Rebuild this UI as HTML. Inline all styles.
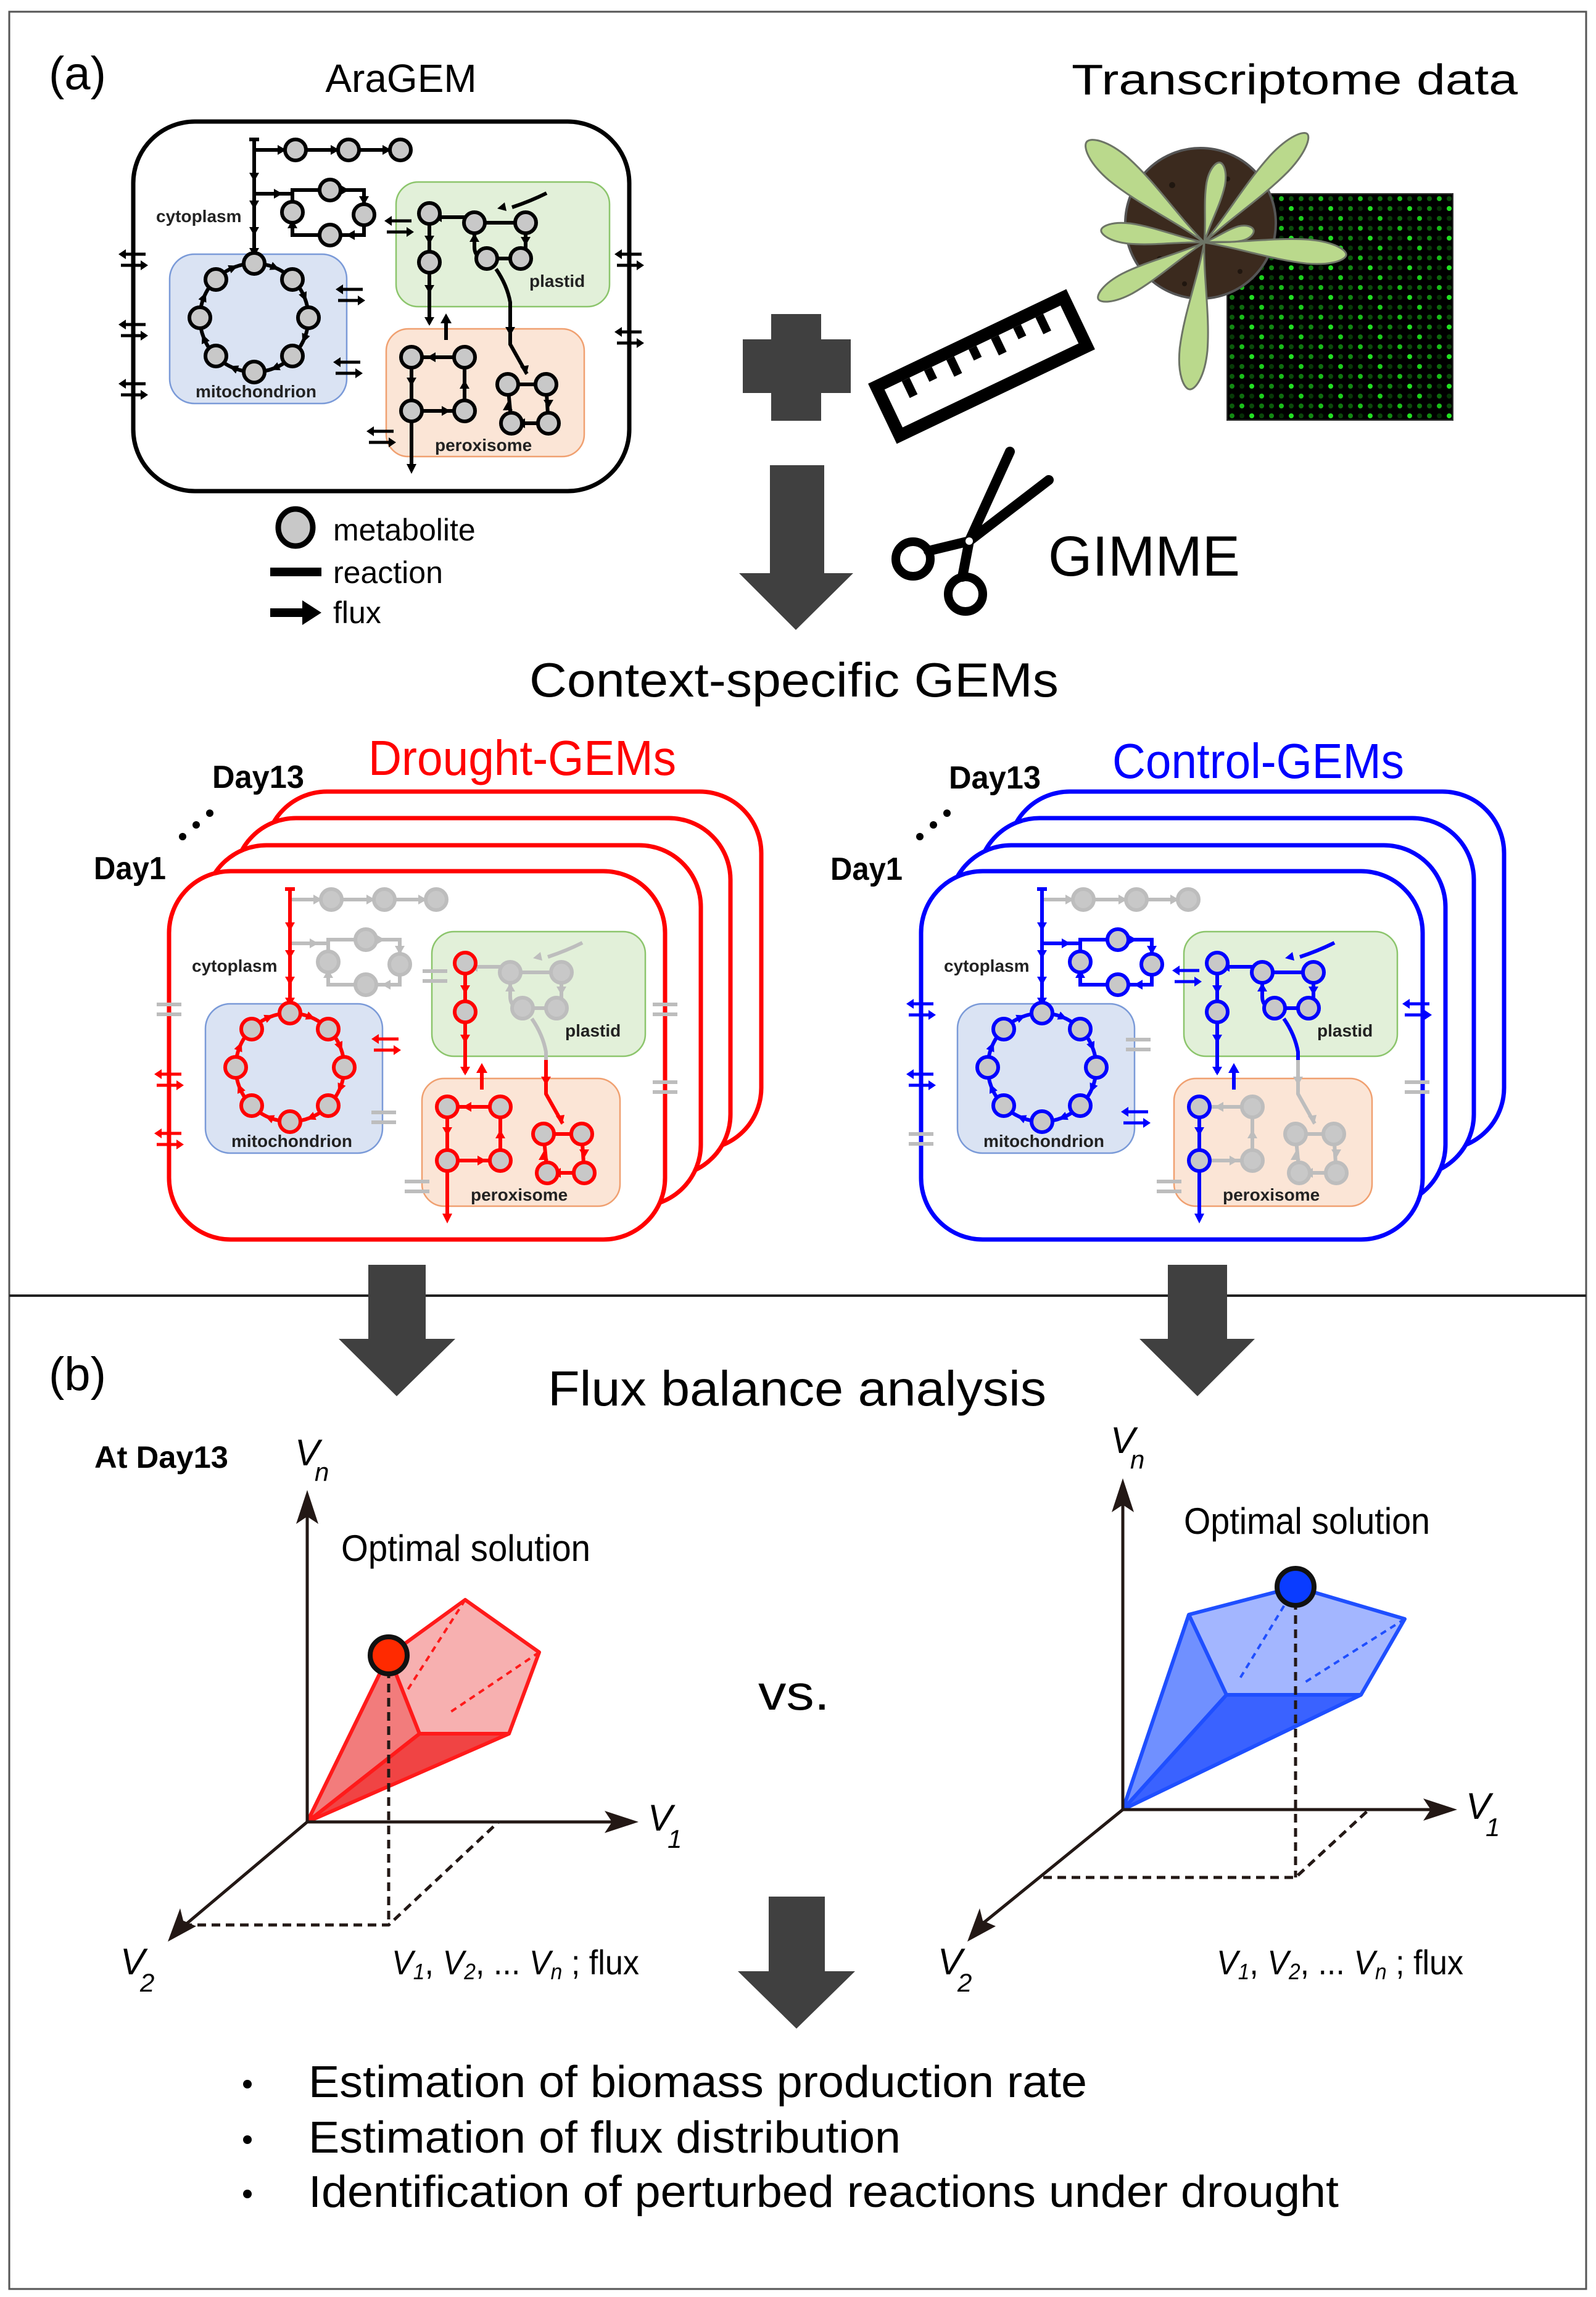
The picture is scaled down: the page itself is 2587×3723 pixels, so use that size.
<!DOCTYPE html>
<html><head><meta charset="utf-8">
<style>
html,body{margin:0;padding:0;background:#fff;}
svg{display:block;}
text{font-family:"Liberation Sans",Arial,sans-serif;}
.lbl{font-weight:bold;font-size:28px;fill:#222;}
</style></head>
<body>
<svg width="2587" height="3723" viewBox="0 0 2587 3723" xmlns="http://www.w3.org/2000/svg">
<defs>
  <pattern id="dots" x="1989" y="314" width="64" height="48" patternUnits="userSpaceOnUse">
    <rect width="64" height="48" fill="#000"/>
    <circle cx="8" cy="8" r="4" fill="#0a5a0a"/><circle cx="24" cy="8" r="4" fill="#19c019"/>
    <circle cx="40" cy="8" r="4" fill="#0a4a0a"/><circle cx="56" cy="8" r="4" fill="#0e7a0e"/>
    <circle cx="8" cy="24" r="4" fill="#128a12"/><circle cx="24" cy="24" r="4" fill="#063006"/>
    <circle cx="40" cy="24" r="4" fill="#22e022"/><circle cx="56" cy="24" r="4" fill="#0a4a0a"/>
    <circle cx="8" cy="40" r="4" fill="#073a07"/><circle cx="24" cy="40" r="4" fill="#0e6e0e"/>
    <circle cx="40" cy="40" r="4" fill="#063506"/><circle cx="56" cy="40" r="4" fill="#1bd01b"/>
  </pattern>
  <path id="leaf" vector-effect="non-scaling-stroke" d="M0,0 C40,-6 80,-28 120,-30 C150,-30 165,-12 165,0 C165,12 150,30 120,30 C80,28 40,6 0,0Z"/>
  <g id="xa">
    <path d="M-12,-9H20M12,9H-20" stroke="var(--cx)" stroke-width="5" fill="none"/>
    <path d="M-24,-9l12,-8v16z M24,9l-12,-8v16z" fill="var(--cx)"/>
  </g>
  <g id="eq"><path d="M-20,-8H20M-20,8H20" stroke="#bdbdbd" stroke-width="6"/></g>

  <g id="net" stroke-width="6" fill="none">
    <rect x="275" y="412" width="287" height="242" rx="40" fill="#dae3f3" stroke="#7a9ad8" stroke-width="2.5"/>
    <rect x="642" y="295" width="346" height="202" rx="36" fill="#e2f0d9" stroke="#8cc56c" stroke-width="2.5"/>
    <rect x="626" y="533" width="321" height="207" rx="36" fill="#fbe5d6" stroke="#f0a070" stroke-width="2.5"/>
    <path d="M412,243H649" stroke="var(--b)"/>
    <path d="M450,235l14,8l-14,8z M536,235l14,8l-14,8z M620,235l14,8l-14,8z" fill="var(--b)" stroke="none"/>
    <path d="M412,314H474 M474,308H590V381H474Z" stroke="var(--c)"/>
    <path d="M444,306l14,8l-14,8z M552,300l14,8l-14,8z M582,318l8,14l8,-14z M575,373l-14,8l14,8z M466,370l8,-14l8,14z" fill="var(--c)" stroke="none"/>
    <path d="M412,226V416 M404,226H420" stroke="var(--a)"/>
    <path d="M404,280l8,14l8,-14z M404,325l8,14l8,-14z M404,368l8,14l8,-14z M404,402l8,14l8,-14z" fill="var(--a)" stroke="none"/>
    <path d="M723,551V520" stroke="var(--a)"/>
    <path d="M714,524l9,-16l9,16z" fill="var(--a)" stroke="none"/>
    <circle cx="412" cy="515" r="88" stroke="var(--d)"/>
    <g fill="var(--d)" stroke="none">
      <path d="M-7,-7L8,0L-7,7z" transform="translate(412,515) rotate(-67.5) translate(88,0) rotate(90)"/>
      <path d="M-7,-7L8,0L-7,7z" transform="translate(412,515) rotate(-22.5) translate(88,0) rotate(90)"/>
      <path d="M-7,-7L8,0L-7,7z" transform="translate(412,515) rotate(22.5) translate(88,0) rotate(90)"/>
      <path d="M-7,-7L8,0L-7,7z" transform="translate(412,515) rotate(67.5) translate(88,0) rotate(90)"/>
      <path d="M-7,-7L8,0L-7,7z" transform="translate(412,515) rotate(112.5) translate(88,0) rotate(90)"/>
      <path d="M-7,-7L8,0L-7,7z" transform="translate(412,515) rotate(157.5) translate(88,0) rotate(90)"/>
      <path d="M-7,-7L8,0L-7,7z" transform="translate(412,515) rotate(202.5) translate(88,0) rotate(90)"/>
      <path d="M-7,-7L8,0L-7,7z" transform="translate(412,515) rotate(247.5) translate(88,0) rotate(90)"/>
    </g>
    <path d="M696,346V524" stroke="var(--e)"/>
    <path d="M688,382l8,14l8,-14z M688,462l8,14l8,-14z M688,514l8,14l8,-14z" fill="var(--e)" stroke="none"/>
    <path d="M769,361H852V419H789Q769,419 769,400Z M886,313Q860,326 830,336 M769,352H716 M804,436Q822,462 827,490V503" stroke="var(--f)"/>
    <path d="M716,344l-14,8l14,8z M818,328l-12,10l15,4z M844,384l8,14l8,-14z M761,392l8,-14l8,14z" fill="var(--f)" stroke="none"/>
    <path d="M827,503V558L854,606 M823,623H885L889,686H829Z" stroke="var(--h)"/>
    <path d="M819,530l8,14l8,-14z M843,594l10,14l4,-16z M881,648l8,14l8,-14z M851,678l-14,8l14,8z M815,665l8,-14l8,14z" fill="var(--h)" stroke="none"/>
    <path d="M753,579H667V666H753Z" stroke="var(--g2)"/>
    <path d="M706,571l-14,8l14,8z M716,658l14,8l-14,8z M745,630l8,-14l8,14z" fill="var(--g2)" stroke="none"/>
    <path d="M667,579V758" stroke="var(--g)"/>
    <path d="M659,612l8,14l8,-14z M659,752l8,16l8,-16z" fill="var(--g)" stroke="none"/>
    <g fill="#c8c8c8">
      <g stroke="var(--b)"><circle cx="479" cy="243" r="17"/><circle cx="565" cy="243" r="17"/><circle cx="649" cy="243" r="17"/></g>
      <g stroke="var(--c)"><circle cx="535" cy="308" r="17"/><circle cx="474" cy="344" r="17"/><circle cx="590" cy="348" r="17"/><circle cx="535" cy="381" r="17"/></g>
      <g stroke="var(--d)">
        <circle cx="412" cy="427" r="17"/><circle cx="474" cy="453" r="17"/><circle cx="500" cy="515" r="17"/><circle cx="474" cy="577" r="17"/>
        <circle cx="412" cy="603" r="17"/><circle cx="350" cy="577" r="17"/><circle cx="324" cy="515" r="17"/><circle cx="350" cy="453" r="17"/>
      </g>
      <g stroke="var(--e)"><circle cx="696" cy="346" r="17"/><circle cx="696" cy="425" r="17"/></g>
      <g stroke="var(--f)"><circle cx="769" cy="361" r="17"/><circle cx="852" cy="361" r="17"/><circle cx="789" cy="419" r="17"/><circle cx="844" cy="419" r="17"/></g>
      <g stroke="var(--h)"><circle cx="823" cy="623" r="17"/><circle cx="885" cy="623" r="17"/><circle cx="829" cy="686" r="17"/><circle cx="889" cy="686" r="17"/></g>
      <g stroke="var(--g)"><circle cx="667" cy="579" r="17"/><circle cx="667" cy="666" r="17"/></g>
      <g stroke="var(--g2)"><circle cx="753" cy="579" r="17"/><circle cx="753" cy="666" r="17"/></g>
    </g>
  </g>
</defs>

<rect x="15" y="19" width="2556" height="3691" fill="none" stroke="#555" stroke-width="3"/>
<line x1="15" y1="2100" x2="2571" y2="2100" stroke="#222" stroke-width="4"/>

<text x="79" y="145" font-size="76">(a)</text>
<text x="650" y="149" font-size="64" text-anchor="middle">AraGEM</text>
<text x="1737" y="153" font-size="70" textLength="723" lengthAdjust="spacingAndGlyphs">Transcriptome data</text>

<rect x="216" y="197" width="804" height="599" rx="100" fill="#fff" stroke="#000" stroke-width="7"/>
<use href="#net" style="--a:#000;--b:#000;--c:#000;--d:#000;--e:#000;--f:#000;--g:#000;--g2:#000;--h:#000"/>
<g style="--cx:#000">
  <use href="#xa" x="216" y="421"/><use href="#xa" x="216" y="535"/><use href="#xa" x="216" y="631"/>
  <use href="#xa" x="1020" y="421"/><use href="#xa" x="1020" y="547"/>
  <use href="#xa" x="568" y="478"/><use href="#xa" x="564" y="596"/>
  <use href="#xa" x="647" y="367"/><use href="#xa" x="618" y="708"/>
</g>
<text class="lbl" x="253" y="360">cytoplasm</text>
<text class="lbl" x="415" y="644" text-anchor="middle">mitochondrion</text>
<text class="lbl" x="858" y="465">plastid</text>
<text class="lbl" x="705" y="731">peroxisome</text>

<ellipse cx="479" cy="855" rx="28" ry="30" fill="#c8c8c8" stroke="#000" stroke-width="9"/>
<text x="540" y="876" font-size="50">metabolite</text>
<rect x="438" y="920" width="83" height="14" fill="#000"/>
<text x="540" y="945" font-size="50">reaction</text>
<path d="M438,986H490V973L521,993L490,1013V1000H438Z" fill="#000"/>
<text x="540" y="1010" font-size="50">flux</text>

<rect x="1250" y="509" width="81" height="173" fill="#404040"/>
<rect x="1204" y="550" width="175" height="87" fill="#404040"/>
<path d="M1248,754H1336V929H1383L1290,1021L1198,929H1248Z" fill="#404040"/>

<g transform="translate(1591,594) rotate(-25.5)">
  <rect x="-168" y="-44" width="336" height="88" fill="none" stroke="#000" stroke-width="20"/>
  <path d="M-120,-34V-4 M-80,-34V-14 M-40,-34V-4 M0,-34V-14 M40,-34V-4 M80,-34V-14 M120,-34V-4" stroke="#000" stroke-width="14"/>
</g>

<rect x="1989" y="314" width="366" height="367" fill="url(#dots)" stroke="#333" stroke-width="2"/>
<circle cx="1946" cy="362" r="122" fill="#3b2a1e" stroke="#555" stroke-width="4"/>
<g fill="#060402" opacity="0.5">
  <circle cx="1900" cy="300" r="5"/><circle cx="1990" cy="290" r="4"/><circle cx="1880" cy="420" r="5"/><circle cx="2010" cy="440" r="4"/><circle cx="1920" cy="460" r="4"/>
</g>
<g fill="#bad98c" stroke="#6d7466" stroke-width="3">
  <use href="#leaf" transform="translate(1952,393) rotate(-139.4) scale(1.52,0.8)"/>
  <use href="#leaf" transform="translate(1952,393) rotate(-46.5) scale(1.47,0.65)"/>
  <use href="#leaf" transform="translate(1952,393) rotate(5) scale(1.4,0.65)"/>
  <use href="#leaf" transform="translate(1952,393) rotate(186.8) scale(1.02,0.55)"/>
  <use href="#leaf" transform="translate(1952,393) rotate(151.9) scale(1.18,0.6)"/>
  <use href="#leaf" transform="translate(1952,393) rotate(95.7) scale(1.45,0.75)"/>
  <use href="#leaf" transform="translate(1952,393) rotate(-78.9) scale(0.8,0.5)"/>
  <use href="#leaf" transform="translate(1952,393) rotate(-14) scale(0.5,0.4)"/>
</g>

<g stroke="#000" fill="none">
  <path d="M1505,893L1571,877L1700,778" stroke-width="16" stroke-linecap="round"/>
  <path d="M1560,935L1571,877L1637,732" stroke-width="16" stroke-linecap="round"/>
  <circle cx="1480" cy="906" r="28" stroke-width="14"/>
  <circle cx="1565" cy="963" r="28" stroke-width="14"/>
  <circle cx="1571" cy="877" r="6" fill="#fff" stroke="none"/>
</g>
<text x="1699" y="933" font-size="92" textLength="311" lengthAdjust="spacingAndGlyphs">GIMME</text>

<text x="858" y="1129" font-size="78" textLength="858" lengthAdjust="spacingAndGlyphs">Context-specific GEMs</text>

<text x="597" y="1256" font-size="80" fill="#ff0000" textLength="499" lengthAdjust="spacingAndGlyphs">Drought-GEMs</text>
<text x="344" y="1277" font-size="52" font-weight="bold" textLength="149" lengthAdjust="spacingAndGlyphs">Day13</text>
<text x="152" y="1425" font-size="52" font-weight="bold" textLength="117" lengthAdjust="spacingAndGlyphs">Day1</text>
<g fill="#000"><circle cx="296" cy="1356" r="6"/><circle cx="318" cy="1337" r="6"/><circle cx="340" cy="1318" r="6"/></g>
<g fill="#fff" stroke="#ff0000" stroke-width="7">
  <rect x="430" y="1283" width="804" height="580" rx="100"/>
  <rect x="380" y="1326" width="804" height="580" rx="100"/>
  <rect x="332" y="1370" width="804" height="585" rx="100"/>
  <rect x="274" y="1412" width="804" height="597" rx="100"/>
</g>
<g transform="translate(58,1215)">
  <use href="#net" style="--a:#ff0000;--b:#bdbdbd;--c:#bdbdbd;--d:#ff0000;--e:#ff0000;--f:#bdbdbd;--g:#ff0000;--g2:#ff0000;--h:#ff0000"/>
  <g style="--cx:#ff0000">
    <use href="#eq" x="216" y="421"/><use href="#xa" x="216" y="535"/><use href="#xa" x="216" y="631"/>
    <use href="#eq" x="1020" y="421"/><use href="#eq" x="1020" y="547"/>
    <use href="#xa" x="568" y="478"/><use href="#eq" x="564" y="596"/>
    <use href="#eq" x="647" y="367"/><use href="#eq" x="618" y="708"/>
  </g>
  <text class="lbl" x="253" y="360">cytoplasm</text>
  <text class="lbl" x="415" y="644" text-anchor="middle">mitochondrion</text>
  <text class="lbl" x="858" y="465">plastid</text>
  <text class="lbl" x="705" y="731">peroxisome</text>
</g>

<text x="1803" y="1261" font-size="80" fill="#0000ff" textLength="473" lengthAdjust="spacingAndGlyphs">Control-GEMs</text>
<text x="1538" y="1278" font-size="52" font-weight="bold" textLength="149" lengthAdjust="spacingAndGlyphs">Day13</text>
<text x="1346" y="1426" font-size="52" font-weight="bold" textLength="117" lengthAdjust="spacingAndGlyphs">Day1</text>
<g fill="#000"><circle cx="1491" cy="1356" r="6"/><circle cx="1513" cy="1337" r="6"/><circle cx="1535" cy="1318" r="6"/></g>
<g fill="#fff" stroke="#0000ff" stroke-width="7">
  <rect x="1634" y="1283" width="804" height="580" rx="100"/>
  <rect x="1585" y="1326" width="804" height="580" rx="100"/>
  <rect x="1539" y="1370" width="804" height="585" rx="100"/>
  <rect x="1493" y="1412" width="813" height="597" rx="100"/>
</g>
<g transform="translate(1277,1215)">
  <use href="#net" style="--a:#0000ff;--b:#bdbdbd;--c:#0000ff;--d:#0000ff;--e:#0000ff;--f:#0000ff;--g:#0000ff;--g2:#bdbdbd;--h:#bdbdbd"/>
  <g style="--cx:#0000ff">
    <use href="#xa" x="216" y="421"/><use href="#xa" x="216" y="535"/><use href="#eq" x="216" y="631"/>
    <use href="#xa" x="1020" y="421"/><use href="#eq" x="1020" y="547"/>
    <use href="#eq" x="568" y="478"/><use href="#xa" x="564" y="596"/>
    <use href="#xa" x="647" y="367"/><use href="#eq" x="618" y="708"/>
  </g>
  <text class="lbl" x="253" y="360">cytoplasm</text>
  <text class="lbl" x="415" y="644" text-anchor="middle">mitochondrion</text>
  <text class="lbl" x="858" y="465">plastid</text>
  <text class="lbl" x="705" y="731">peroxisome</text>
</g>

<path d="M597,2050H690V2170H738L643,2263L549,2170H597Z" fill="#404040"/>
<path d="M1893,2050H1989V2170H2034L1941,2263L1847,2170H1893Z" fill="#404040"/>

<text x="79" y="2253" font-size="76">(b)</text>
<text x="888" y="2278" font-size="80" textLength="808" lengthAdjust="spacingAndGlyphs">Flux balance analysis</text>
<text x="153" y="2379" font-size="50" font-weight="bold" textLength="217" lengthAdjust="spacingAndGlyphs">At Day13</text>

<g>
  <polygon points="630,2683 754,2593 874,2678 825,2810 680,2810" fill="#f7b0b0"/>
  <polygon points="498,2953 630,2683 680,2810" fill="#f27c7c"/>
  <polygon points="498,2953 680,2810 825,2810" fill="#f04444"/>
  <g stroke="#ff1a1a" stroke-width="6" fill="none" stroke-linejoin="round">
    <path d="M498,2953L630,2683L754,2593L874,2678L825,2810L680,2810L630,2683 M498,2953L680,2810 M498,2953L825,2810"/>
    <path d="M754,2593L660,2740 M874,2678L730,2775" stroke-dasharray="10,8" stroke-width="4"/>
  </g>
  <g stroke="#231815" stroke-width="5" fill="none">
    <path d="M498,2953V2450 M498,2953H1000 M498,2953L300,3120"/>
    <path d="M630,2683V3120 M297,3120H630L808,2953" stroke-dasharray="14,9"/>
  </g>
  <g fill="#231815">
    <path d="M498,2415L480,2470L498,2458L516,2470Z"/>
    <path d="M1035,2953L980,2935L992,2953L980,2971Z"/>
    <path d="M272,3147L292,3093L297,3113L318,3122Z"/>
  </g>
  <circle cx="630" cy="2683" r="30" fill="#ff2a00" stroke="#111" stroke-width="8"/>
  <text x="478" y="2375" font-size="60" font-style="italic">V</text><text x="510" y="2400" font-size="42" font-style="italic">n</text>
  <text x="1050" y="2967" font-size="60" font-style="italic">V</text><text x="1082" y="2995" font-size="42" font-style="italic">1</text>
  <text x="195" y="3200" font-size="60" font-style="italic">V</text><text x="227" y="3228" font-size="42" font-style="italic">2</text>
  <text x="553" y="2530" font-size="60" textLength="404" lengthAdjust="spacingAndGlyphs">Optimal solution</text>
  <text x="635" y="3200" font-size="56" textLength="401" lengthAdjust="spacingAndGlyphs"><tspan font-style="italic">V</tspan><tspan font-size="36" font-style="italic" dy="8">1</tspan><tspan dy="-8">, </tspan><tspan font-style="italic">V</tspan><tspan font-size="36" font-style="italic" dy="8">2</tspan><tspan dy="-8">, ... </tspan><tspan font-style="italic">V</tspan><tspan font-size="36" font-style="italic" dy="8">n</tspan><tspan dy="-8"> ; flux</tspan></text>
</g>

<text x="1229" y="2771" font-size="80" textLength="116" lengthAdjust="spacingAndGlyphs">vs.</text>

<g>
  <polygon points="1927,2617 2100,2572 2277,2624 2206,2747 1988,2747" fill="#a3b6ff"/>
  <polygon points="1820,2933 1927,2617 1988,2747" fill="#7090ff"/>
  <polygon points="1820,2933 1988,2747 2206,2747" fill="#3a62ff"/>
  <g stroke="#1f4fff" stroke-width="6" fill="none" stroke-linejoin="round">
    <path d="M1820,2933L1927,2617L2100,2572L2277,2624L2206,2747L1988,2747L1927,2617 M1820,2933L1988,2747 M1820,2933L2206,2747"/>
    <path d="M2100,2572L2010,2720 M2277,2624L2110,2730" stroke-dasharray="10,8" stroke-width="4"/>
  </g>
  <g stroke="#231815" stroke-width="5" fill="none">
    <path d="M1820,2933V2430 M1820,2933H2330 M1820,2933L1590,3120"/>
    <path d="M2100,2572V3043 M1691,3043H2100L2219,2933" stroke-dasharray="14,9"/>
  </g>
  <g fill="#231815">
    <path d="M1820,2396L1802,2451L1820,2439L1838,2451Z"/>
    <path d="M2362,2933L2307,2915L2319,2933L2307,2951Z"/>
    <path d="M1568,3147L1588,3093L1593,3113L1614,3122Z"/>
  </g>
  <circle cx="2100" cy="2572" r="30" fill="#0a3cff" stroke="#111" stroke-width="8"/>
  <text x="1800" y="2355" font-size="60" font-style="italic">V</text><text x="1832" y="2380" font-size="42" font-style="italic">n</text>
  <text x="2376" y="2948" font-size="60" font-style="italic">V</text><text x="2408" y="2976" font-size="42" font-style="italic">1</text>
  <text x="1520" y="3200" font-size="60" font-style="italic">V</text><text x="1552" y="3228" font-size="42" font-style="italic">2</text>
  <text x="1919" y="2486" font-size="60" textLength="399" lengthAdjust="spacingAndGlyphs">Optimal solution</text>
  <text x="1972" y="3200" font-size="56" textLength="400" lengthAdjust="spacingAndGlyphs"><tspan font-style="italic">V</tspan><tspan font-size="36" font-style="italic" dy="8">1</tspan><tspan dy="-8">, </tspan><tspan font-style="italic">V</tspan><tspan font-size="36" font-style="italic" dy="8">2</tspan><tspan dy="-8">, ... </tspan><tspan font-style="italic">V</tspan><tspan font-size="36" font-style="italic" dy="8">n</tspan><tspan dy="-8"> ; flux</tspan></text>
</g>

<path d="M1246,3074H1337V3195H1386L1291,3288L1196,3195H1246Z" fill="#404040"/>

<g font-size="72">
  <circle cx="401" cy="3378" r="7" fill="#000"/>
  <text x="500" y="3399" textLength="1262" lengthAdjust="spacingAndGlyphs">Estimation of biomass production rate</text>
  <circle cx="401" cy="3468" r="7" fill="#000"/>
  <text x="500" y="3489" textLength="960" lengthAdjust="spacingAndGlyphs">Estimation of flux distribution</text>
  <circle cx="401" cy="3556" r="7" fill="#000"/>
  <text x="500" y="3577" textLength="1670" lengthAdjust="spacingAndGlyphs">Identification of perturbed reactions under drought</text>
</g>
</svg>
</body></html>
